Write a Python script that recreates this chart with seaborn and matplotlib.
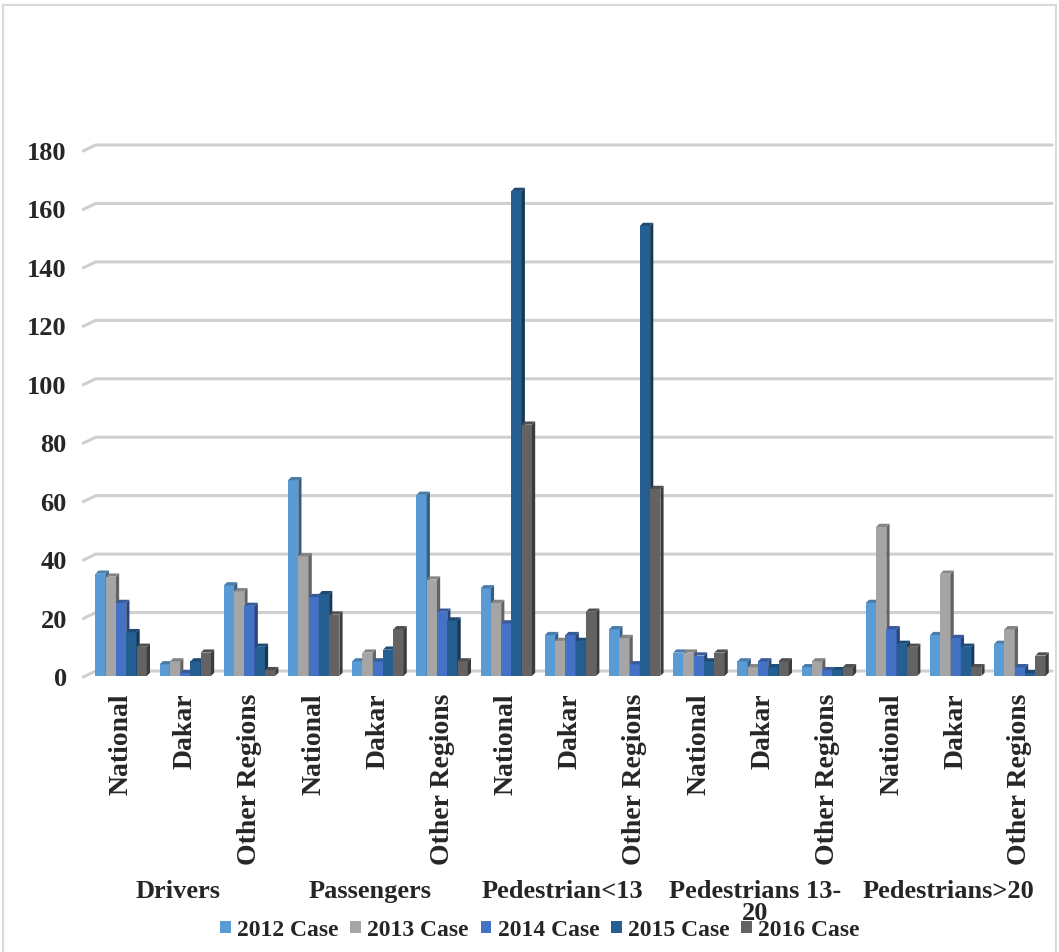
import numpy as np
import pandas as pd
import matplotlib
matplotlib.use("Agg")
import matplotlib.pyplot as plt
import matplotlib.colors as mcolors
from matplotlib.patches import Polygon, Patch, Rectangle
import seaborn as sns

# --- data -------------------------------------------------------------
groups = ["Drivers", "Passengers", "Pedestrian<13", "Pedestrians 13-\n20", "Pedestrians>20"]
regions = ["National", "Dakar", "Other Regions"]
years = ["2012 Case", "2013 Case", "2014 Case", "2015 Case", "2016 Case"]

cases_2012 = [35, 4, 31, 67, 5, 62, 30, 14, 16, 8, 5, 3, 25, 14, 11]
cases_2013 = [34, 5, 29, 41, 8, 33, 25, 12, 13, 8, 3, 5, 51, 35, 16]
cases_2014 = [25, 1, 24, 27, 5, 22, 18, 14, 4, 7, 5, 2, 16, 13, 3]
cases_2015 = [15, 5, 10, 28, 9, 19, 166, 12, 154, 5, 3, 2, 11, 10, 1]
cases_2016 = [10, 8, 2, 21, 16, 5, 86, 22, 64, 8, 5, 3, 10, 3, 7]

colors = ["#5B9BD5", "#A5A5A5", "#4472C4", "#255E91", "#636363"]
y_ticks = [0, 20, 40, 60, 80, 100, 120, 140, 160, 180]

# --- long-form table --------------------------------------------------
slots = [f"{g}|{r}" for g in groups for r in regions]
series = [cases_2012, cases_2013, cases_2014, cases_2015, cases_2016]
rows = []
for year, vals in zip(years, series):
    for slot, v in zip(slots, vals):
        rows.append({"slot": slot, "year": year, "cases": v})
df = pd.DataFrame(rows)

# --- figure -----------------------------------------------------------
sns.set_theme(style="white")
plt.rcParams["font.family"] = ["Liberation Serif", "DejaVu Serif"]
plt.rcParams["font.weight"] = "bold"

W, H = 1059, 953
fig = plt.figure(figsize=(W / 100, H / 100), dpi=100)
ax = fig.add_axes([89 / W, 1 - 677 / H, 963 / W, (677 - 151) / H])

sns.barplot(data=df, x="slot", y="cases", hue="year", order=slots,
            hue_order=years, palette=colors, saturation=1, width=0.8,
            errorbar=None, legend=False, ax=ax, zorder=5)

ax.set_xlim(-0.5, len(slots) - 0.5)
ax.set_ylim(0, 180)
ax.set_yticks(y_ticks)
ax.set_yticklabels([str(t) for t in y_ticks], fontsize=19, fontweight="bold")
ax.tick_params(axis="y", length=0, pad=16)
ax.set_xticks(range(len(slots)))
ax.set_xticklabels([s.split("|")[1] for s in slots], rotation=90,
                   fontsize=20, fontweight="bold", va="top", ha="center")
ax.tick_params(axis="x", length=0, pad=12)
ax.set_xlabel("")
ax.set_ylabel("")
for sp in ax.spines.values():
    sp.set_visible(False)
ax.grid(False)

fig.canvas.draw()
px_x = ax.bbox.width / len(slots)
px_y = ax.bbox.height / 180.0

# --- back-wall gridlines with a short slanted floor edge ---------------
ytrans = ax.get_yaxis_transform()
wall = 5 / px_y
for t in y_ticks:
    ax.plot([-0.006, 0.007, 1.0], [t - 1 / px_y, t + wall, t + wall],
            transform=ytrans, color="#cfcfcf", lw=2.2, zorder=1,
            clip_on=False, solid_capstyle="round", solid_joinstyle="round")

# --- give each bar a shaded side and top for depth ---------------------
dx = 3.2 / px_x
dy = 3.2 / px_y
bars = sorted([p for p in ax.patches if isinstance(p, Rectangle)],
              key=lambda p: p.get_x())
for rank, bar in enumerate(bars):
    x, w, h = bar.get_x(), bar.get_width(), bar.get_height()
    base = np.array(mcolors.to_rgb(bar.get_facecolor()))
    side_c = base * 0.6
    top_c = base * 0.8
    bar.set_zorder(10 + 2 * rank)
    bar.set_edgecolor("none")
    side = Polygon([(x + w, 0), (x + w + dx, dy), (x + w + dx, h + dy), (x + w, h)],
                   closed=True, facecolor=side_c, edgecolor="none",
                   zorder=11 + 2 * rank)
    top = Polygon([(x, h), (x + dx, h + dy), (x + w + dx, h + dy), (x + w, h)],
                  closed=True, facecolor=top_c, edgecolor="none",
                  zorder=11 + 2 * rank)
    ax.add_patch(side)
    ax.add_patch(top)

# --- group labels under the rotated region names ----------------------
label_y = -(880 - 677) / ax.bbox.height
for gi, g in enumerate(groups):
    xc = gi * len(regions) + (len(regions) - 1) / 2 - 0.12
    ax.text(xc, label_y, g, transform=ax.get_xaxis_transform(),
            ha="center", va="top", fontsize=19, fontweight="bold",
            linespacing=0.95)

# --- legend -------------------------------------------------------------
handles = [Patch(facecolor=c, edgecolor="none", label=y) for c, y in zip(colors, years)]
fig.legend(handles=handles, loc="center", bbox_to_anchor=(540 / W, 1 - 931 / H),
           ncol=5, frameon=False, prop={"size": 17, "weight": "bold"},
           handlelength=0.45, handleheight=0.45, handletextpad=0.27,
           columnspacing=0.5, borderpad=0)

# --- chart border -------------------------------------------------------
fig.add_artist(Rectangle((3 / W, -0.02), (1056 - 3) / W, 1 - 6 / H + 0.02,
                         transform=fig.transFigure, fill=False,
                         edgecolor="#d9d9d9", lw=1.5))

fig.savefig("out.png", dpi=100)
